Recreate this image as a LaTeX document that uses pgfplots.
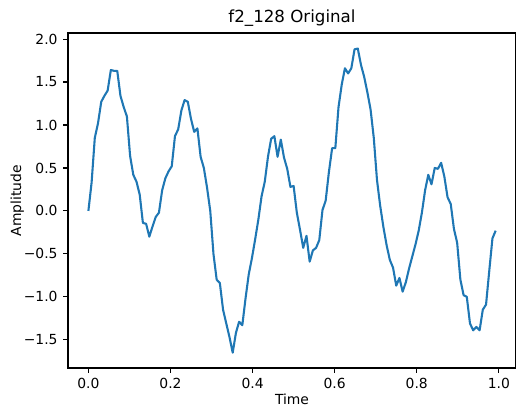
\documentclass[border=0pt]{standalone}
\usepackage{pgfplots}
\pgfplotsset{compat=1.18}
\usepackage{fontspec}
\setmainfont{DejaVu Sans}
\definecolor{mplblue}{HTML}{1F77B4}
\pgfplotstableread{
t v
0 0.00
0.0078 0.33
0.0156 0.85
0.0234 1.02
0.0313 1.27
0.0391 1.34
0.0469 1.40
0.0547 1.64
0.0625 1.63
0.0703 1.63
0.0781 1.34
0.0859 1.21
0.0938 1.10
0.1016 0.64
0.1094 0.42
0.1172 0.34
0.125 0.19
0.1328 -0.14
0.1406 -0.15
0.1484 -0.30
0.1563 -0.18
0.1641 -0.07
0.1719 -0.02
0.1797 0.24
0.1875 0.38
0.1953 0.46
0.2031 0.52
0.2109 0.87
0.2188 0.95
0.2266 1.17
0.2344 1.29
0.2422 1.27
0.25 1.07
0.2578 0.92
0.2656 0.96
0.2734 0.63
0.2813 0.50
0.2891 0.27
0.2969 0.00
0.3047 -0.50
0.3125 -0.80
0.3203 -0.84
0.3281 -1.15
0.3359 -1.31
0.3438 -1.47
0.3516 -1.65
0.3594 -1.42
0.3672 -1.29
0.375 -1.33
0.3828 -1.02
0.3906 -0.74
0.3984 -0.55
0.4063 -0.33
0.4141 -0.10
0.4219 0.17
0.4297 0.34
0.4375 0.63
0.4453 0.84
0.4531 0.87
0.4609 0.63
0.4688 0.83
0.4766 0.62
0.4844 0.49
0.4922 0.28
0.5 0.29
0.5078 -0.02
0.5156 -0.22
0.5234 -0.43
0.5313 -0.29
0.5391 -0.59
0.5469 -0.46
0.5547 -0.43
0.5625 -0.34
0.5703 0.01
0.5781 0.12
0.5859 0.45
0.5938 0.73
0.6016 0.73
0.6094 1.21
0.6172 1.47
0.625 1.66
0.6328 1.60
0.6406 1.66
0.6484 1.88
0.6563 1.89
0.6641 1.70
0.6719 1.56
0.6797 1.38
0.6875 1.18
0.6953 0.85
0.7031 0.36
0.7109 0.06
0.7188 -0.19
0.7266 -0.40
0.7344 -0.57
0.7422 -0.66
0.75 -0.87
0.7578 -0.78
0.7656 -0.94
0.7734 -0.83
0.7813 -0.67
0.7891 -0.53
0.7969 -0.39
0.8047 -0.23
0.8125 -0.02
0.8203 0.24
0.8281 0.42
0.8359 0.31
0.8438 0.50
0.8516 0.49
0.8594 0.56
0.8672 0.40
0.875 0.16
0.8828 0.08
0.8906 -0.21
0.8984 -0.37
0.9063 -0.80
0.9141 -0.98
0.9219 -1.00
0.9297 -1.31
0.9375 -1.39
0.9453 -1.35
0.9531 -1.39
0.9609 -1.15
0.9688 -1.09
0.9766 -0.70
0.9844 -0.32
0.9922 -0.23
}\sig
\begin{document}
\begin{tikzpicture}
\path[use as bounding box] (-49pt,-27.4pt) rectangle (322.6pt,265pt);
\begin{axis}[
  at={(0,0)}, anchor=south west,
  scale only axis, width=322.6pt, height=241.2pt,
  xmin=-0.0496, xmax=1.0418, ymin=-1.828, ymax=2.07,
  xtick={0,0.2,0.4,0.6,0.8,1.0},
  xticklabels={0.0,0.2,0.4,0.6,0.8,1.0},
  ytick={-1.5,-1,-0.5,0,0.5,1,1.5,2},
  yticklabels={−1.5,−1.0,−0.5,0.0,0.5,1.0,1.5,2.0},
  tick align=outside, tick pos=left, major tick length=3.5pt,
  tick style={black, line width=0.8pt},
  axis line style={black, line width=0.8pt},
  ticklabel style={font=\fontsize{10}{12}\selectfont},
  xticklabel style={yshift=-0.5pt},
  yticklabel style={xshift=-0.5pt},
  xlabel={Time}, ylabel={Amplitude},
  xlabel style={at={(axis description cs:0.5,-0.109)}, anchor=base, font=\fontsize{10}{12}\selectfont},
  ylabel style={at={(axis description cs:-0.1048,0.5)}, rotate=0, anchor=base, font=\fontsize{10}{12}\selectfont},
  title={f2\_128 Original},
  title style={at={(axis description cs:0.5,1.008)}, anchor=base, font=\fontsize{12}{14}\selectfont},
]
\addplot[mplblue, line width=1.5pt, line join=round, no markers] table[x=t, y=v] {\sig};
\end{axis}
\end{tikzpicture}
\end{document}
